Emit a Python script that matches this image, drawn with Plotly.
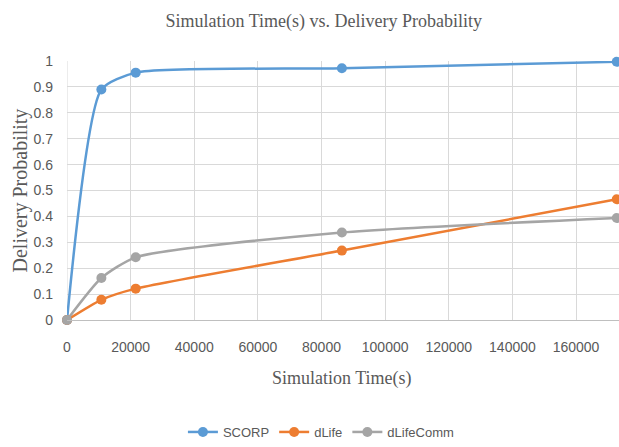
import plotly.graph_objects as go

sim_time = [0, 10800, 21600, 86400, 172800]
scorp = [0, 0.89, 0.955, 0.972, 0.997]
dlife = [0, 0.078, 0.121, 0.268, 0.466]
dlifecomm = [0, 0.162, 0.242, 0.338, 0.394]

series = [
    ("SCORP", scorp, "#5B9BD5"),
    ("dLife", dlife, "#ED7D31"),
    ("dLifeComm", dlifecomm, "#A5A5A5"),
]

x_ticks = [0, 20000, 40000, 60000, 80000, 100000, 120000, 140000, 160000]
y_ticks = [0, 0.1, 0.2, 0.3, 0.4, 0.5, 0.6, 0.7, 0.8, 0.9, 1]

fig = go.Figure()
for name, vals, color in series:
    fig.add_trace(go.Scatter(
        x=sim_time, y=vals, name=name, mode="lines+markers",
        line=dict(color=color, width=2.5, shape="spline", smoothing=0.6),
        marker=dict(color=color, size=10),
        cliponaxis=False,
    ))

grid = "#D9D9D9"
txt = "#595959"
fig.update_layout(
    width=619, height=447,
    margin=dict(l=67, r=0, t=61, b=126),
    paper_bgcolor="white", plot_bgcolor="white",
    showlegend=True,
    legend=dict(orientation="h", x=0.46, xanchor="center", y=-0.43, yanchor="middle",
                font=dict(family="Liberation Sans, Arial, sans-serif", size=13, color=txt),
                itemwidth=30, tracegroupgap=0),
    title=dict(text="Simulation Time(s) vs. Delivery Probability",
               xref="container", x=0.523, xanchor="center",
               yref="container", y=1 - 21 / 447, yanchor="middle",
               font=dict(family="Liberation Serif, Times New Roman, serif", size=18, color=txt)),
    xaxis=dict(range=[0, 173500], tickvals=x_ticks, ticktext=[str(v) for v in x_ticks],
               showgrid=True, gridcolor=grid, gridwidth=1,
               zeroline=False, showline=True, linecolor="#BFBFBF", linewidth=1,
               ticks="", ticklabelstandoff=14,
               tickfont=dict(family="Liberation Sans, Arial, sans-serif", size=14, color=txt)),
    yaxis=dict(range=[0, 1], tickvals=y_ticks, ticktext=[f"{v:g}" for v in y_ticks],
               showgrid=True, gridcolor=grid, gridwidth=1,
               zeroline=False, showline=False,
               ticks="", ticklabelstandoff=13,
               tickfont=dict(family="Liberation Sans, Arial, sans-serif", size=14, color=txt)),
    annotations=[
        dict(text="Delivery Probability", xref="paper", yref="paper", x=-67 / 552 + 20 / 552,
             y=0.5, xanchor="center", yanchor="middle", textangle=-90, showarrow=False,
             font=dict(family="Liberation Serif, Times New Roman, serif", size=20, color=txt)),
        dict(text="Simulation Time(s)", xref="paper", yref="paper", x=(342 - 67) / 552,
             y=-(380 - 321) / 260, xanchor="center", yanchor="middle", showarrow=False,
             font=dict(family="Liberation Serif, Times New Roman, serif", size=18, color=txt)),
    ],
)
fig.add_shape(type="line", xref="x", yref="paper", x0=0, x1=0, y0=0, y1=1,
              line=dict(color=grid, width=1), layer="below")

fig.write_html("out.html")
